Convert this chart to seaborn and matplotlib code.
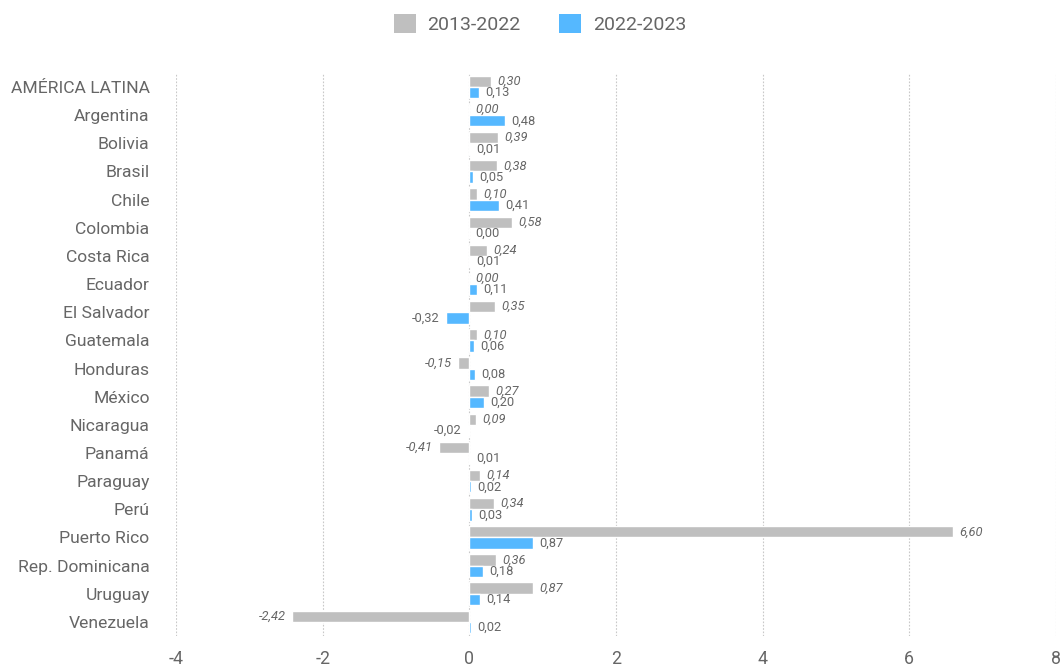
import pandas as pd
import matplotlib.pyplot as plt
import seaborn as sns
from matplotlib.patches import Patch

# Data
countries = ['AMÉRICA LATINA', 'Argentina', 'Bolivia', 'Brasil', 'Chile', 'Colombia',
             'Costa Rica', 'Ecuador', 'El Salvador', 'Guatemala', 'Honduras', 'México',
             'Nicaragua', 'Panamá', 'Paraguay', 'Perú', 'Puerto Rico', 'Rep. Dominicana',
             'Uruguay', 'Venezuela']
vals_2013_2022 = [0.30, 0.00, 0.39, 0.38, 0.10, 0.58, 0.24, 0.00, 0.35, 0.10, -0.15,
                  0.27, 0.09, -0.41, 0.14, 0.34, 6.60, 0.36, 0.87, -2.42]
vals_2022_2023 = [0.13, 0.48, 0.01, 0.05, 0.41, 0.00, 0.01, 0.11, -0.32, 0.06, 0.08,
                  0.20, -0.02, 0.01, 0.02, 0.03, 0.87, 0.18, 0.14, 0.02]
periods = ['2013-2022', '2022-2023']
colors = ['#BFBFBF', '#55B8FF']
x_ticks = [-4, -2, 0, 2, 4, 6, 8]

df = pd.DataFrame({
    'pais': countries * 2,
    'valor': vals_2013_2022 + vals_2022_2023,
    'periodo': [periods[0]] * len(countries) + [periods[1]] * len(countries),
})

sns.set_theme(style='white')
plt.rcParams['font.family'] = ['Roboto', 'DejaVu Sans']
plt.rcParams['axes.unicode_minus'] = False
text_color = '#666666'

fig, ax = plt.subplots(figsize=(10.62, 6.67), dpi=100)
fig.subplots_adjust(left=0.1657, right=0.9944, bottom=0.0465, top=0.8906)

sns.barplot(data=df, x='valor', y='pais', hue='periodo', order=countries,
            hue_order=periods, palette=colors, orient='h', errorbar=None,
            width=0.8, saturation=1, ax=ax, legend=False)

# value labels
fmt = lambda v: f'{v:.2f}'.replace('.', ',')
ax.bar_label(ax.containers[0], labels=[fmt(v) for v in vals_2013_2022], padding=4.5,
             fontsize=9.3, color=text_color, fontstyle='italic')
ax.bar_label(ax.containers[1], labels=[fmt(v) for v in vals_2022_2023], padding=4.5,
             fontsize=9.3, color=text_color)

ax.set_xlim(-4, 8)
ax.set_xticks(x_ticks)
ax.set_xticklabels([str(t) for t in x_ticks])
ax.set_xlabel('')
ax.set_ylabel('')
ax.grid(axis='x', linestyle=(0, (1.5, 1.5)), color='#c8c8c8', linewidth=0.8)
ax.grid(axis='y', visible=False)
ax.set_axisbelow(True)
for s in ax.spines.values():
    s.set_visible(False)
ax.tick_params(axis='y', length=0, pad=19, labelsize=12.6, labelcolor=text_color)
ax.tick_params(axis='x', length=0, pad=10, labelsize=12.8, labelcolor=text_color)

handles = [Patch(facecolor=c, edgecolor='none') for c in colors]
fig.legend(handles, periods, loc='center', bbox_to_anchor=(0.5085, 0.964), ncol=2,
           frameon=False, fontsize=14, labelcolor=text_color, handlelength=1.13,
           handleheight=1.13, handletextpad=0.6, columnspacing=2.0)

plt.savefig('out.png', dpi=100)
plt.close()
